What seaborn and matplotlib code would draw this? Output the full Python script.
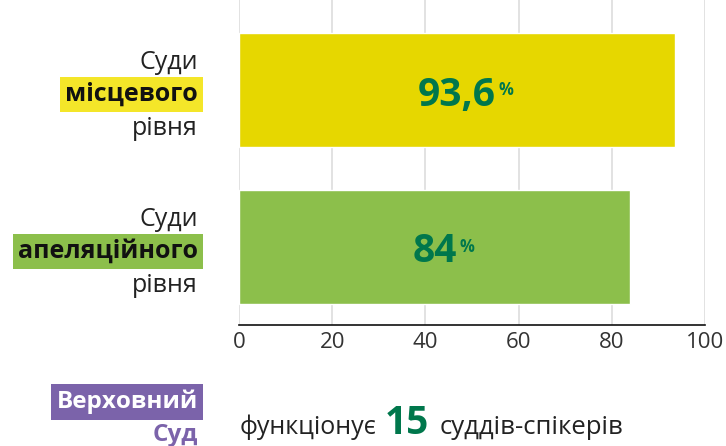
import matplotlib
matplotlib.use("Agg")
import matplotlib.pyplot as plt
import seaborn as sns
import pandas as pd
from matplotlib import transforms

# Data
categories = ["місцевого", "апеляційного"]
shares = [93.6, 84.0]
share_labels = ["93,6", "84"]
bar_colors = ["#E6D700", "#8CBF4B"]
label_colors = ["#F4E629", "#8CBF4B"]
x_ticks = [0, 20, 40, 60, 80, 100]
speakers = 15

GREEN_TEXT = "#00774C"
PURPLE = "#7B63AA"
FONT = ["Open Sans", "DejaVu Sans"]

sns.set_theme(style="white")
plt.rcParams["font.family"] = FONT

df = pd.DataFrame({"level": categories, "share": shares})

fig = plt.figure(figsize=(7.26, 4.46), dpi=100)
ax = fig.add_axes([239 / 726, 1 - 325 / 446, 466 / 726, 325 / 446])

sns.barplot(data=df, x="share", y="level", hue="level", palette=bar_colors,
            width=0.73, legend=False, ax=ax, saturation=1)

ax.set_xlim(0, 100)
ax.set_ylim(1.5, -0.575)
ax.set_xticks(x_ticks)
ax.set_xticklabels([str(t) for t in x_ticks], fontsize=16, color="#333333")
ax.set_yticks([])
ax.set_xlabel("")
ax.set_ylabel("")
ax.tick_params(axis="x", length=0, pad=5)
ax.grid(axis="x", color="#DDDDDD", linewidth=1.2)
ax.set_axisbelow(True)
for s in ["top", "right", "left"]:
    ax.spines[s].set_visible(False)
ax.spines["bottom"].set_color("#111111")
ax.spines["bottom"].set_linewidth(1.2)

renderer = fig.canvas.get_renderer()
blend = transforms.blended_transform_factory(ax.transAxes, ax.transData)

# Category labels on the left
lab_x = -0.088
for i, cat in enumerate(categories):
    ax.text(lab_x, i - 0.135, "Суди", transform=blend, ha="right",
            va="baseline", fontsize=18, color="#222222")
    ax.text(lab_x, i + 0.07, cat, transform=blend, ha="right",
            va="baseline", fontsize=18, fontweight="bold", color="#111111",
            bbox=dict(boxstyle="square,pad=0.2", facecolor=label_colors[i],
                      edgecolor="none"))
    ax.text(lab_x, i + 0.29, "рівня", transform=blend, ha="right",
            va="baseline", fontsize=18, color="#222222")

# Values inside bars
for i, (v, lab) in enumerate(zip(shares, share_labels)):
    t = ax.text(v / 2, i + 0.1, lab, ha="center", va="baseline",
                fontsize=28, fontweight="bold", color=GREEN_TEXT)
    ax.annotate("%", xy=(1, 1), xycoords=t, xytext=(2, -4),
                textcoords="offset points", ha="left", va="top",
                fontsize=12, fontweight="bold", color=GREEN_TEXT)

# Bottom note
fig.text(198 / 726, 1 - 402 / 446, "Верховний", ha="right", va="center",
         fontsize=17.5, fontweight="bold", color="white",
         bbox=dict(boxstyle="square,pad=0.22", facecolor=PURPLE, edgecolor="none"))
fig.text(198 / 726, 1 - 441 / 446, "Суд", ha="right", va="baseline",
         fontsize=17.5, fontweight="bold", color=PURPLE)

base_y = 1 - 434 / 446
t1 = fig.text(240 / 726, base_y, "функціонує", ha="left", va="baseline",
              fontsize=18, color="#222222")
e1 = t1.get_window_extent(renderer)
t2 = fig.text((e1.x1 + 8) / 726, base_y, str(speakers), ha="left",
              va="baseline", fontsize=28, fontweight="bold", color=GREEN_TEXT)
e2 = t2.get_window_extent(renderer)
fig.text((e2.x1 + 10) / 726, base_y, "суддів-спікерів", ha="left",
         va="baseline", fontsize=18.5, color="#222222")

fig.savefig("out.png", dpi=100)
